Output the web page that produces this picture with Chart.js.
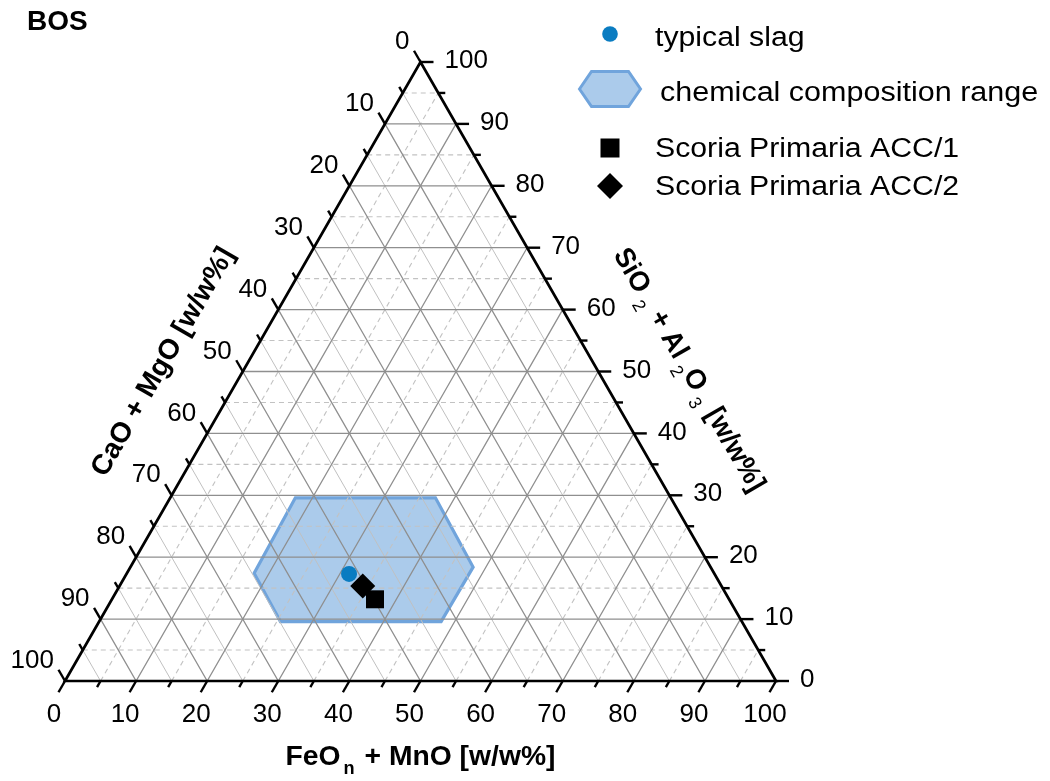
<!DOCTYPE html>
<html>
<head>
<meta charset="utf-8">
<title>BOS ternary diagram</title>
<script src="https://cdn.jsdelivr.net/npm/chart.js@4.4.0/dist/chart.umd.min.js"></script>
<style>
    html, body { margin: 0; padding: 0; background: #fff; }
    #wrap { width: 1050px; height: 781px; }
</style>
</head>
<body>
<div id="wrap"><canvas id="ternary" width="1050" height="781"></canvas></div>
<script>
// Axis ticks (percent, same on all three sides)
const majorTicks = [0, 10, 20, 30, 40, 50, 60, 70, 80, 90, 100];
const minorTicks = [5, 15, 25, 35, 45, 55, 65, 75, 85, 95];
const tickLabels = ['0', '10', '20', '30', '40', '50', '60', '70', '80', '90', '100'];

const seriesNames = ['typical slag', 'chemical composition range', 'Scoria Primaria ACC/1', 'Scoria Primaria ACC/2'];

// Compositions: FeOn+MnO / CaO+MgO / SiO2+Al2O3 [w/w%]
const slagFeO = [31.3];
const slagCaO = [51.4];
const slagSiO = [17.3];

const acc1FeO = [37.0];
const acc1CaO = [49.8];
const acc1SiO = [13.2];

const acc2FeO = [34.2];
const acc2CaO = [50.45];
const acc2SiO = [15.35];

// corners of the BOS composition range
const rangeFeO = [17.6, 37.3, 48.2, 48.1, 25.5, 17.9];
const rangeCaO = [52.8, 33.1, 33.4, 42.3, 64.9, 64.7];
const rangeSiO = [29.6, 29.6, 18.4, 9.6, 9.6, 17.4];

const FONT = '"Liberation Sans", Arial, Helvetica, sans-serif';
const H = Math.sqrt(3) / 2;

// ternary -> cartesian (x: 0..100, y: 0..86.6)
function toXY(feo, cao, sio) {
    const sum = feo + cao + sio;
    return { x: 100 * (feo + sio / 2) / sum, y: 100 * H * sio / sum };
}

function tern(feo, cao, sio) {
    return feo.map((f, i) => toXY(f, cao[i], sio[i]));
}

// one family of grid lines, separated by gaps
function gridLines(values, kind) {
    const pts = [];
    values.forEach(v => {
        if (v <= 0 || v >= 100) return;
        let a, b;
        if (kind === 'S') { a = toXY(0, 100 - v, v); b = toXY(100 - v, 0, v); }
        if (kind === 'C') { a = toXY(0, v, 100 - v); b = toXY(100 - v, v, 0); }
        if (kind === 'F') { a = toXY(v, 100 - v, 0); b = toXY(v, 0, 100 - v); }
        pts.push(a, b, { x: null, y: null });
    });
    return pts;
}

function gridSet(data, color, dash, width) {
    return {
        label: 'grid',
        data: data,
        showLine: true,
        borderColor: color,
        borderWidth: width,
        borderDash: dash,
        pointRadius: 0,
        fill: false,
        spanGaps: false,
        order: 5
    };
}

const hexPoints = tern(rangeFeO, rangeCaO, rangeSiO);
const framePoints = [toXY(0, 100, 0), toXY(100, 0, 0), toXY(0, 0, 100), toXY(0, 100, 0), toXY(100, 0, 0)];

const SLAG_BLUE = '#0a7cc1';
const RANGE_FILL = '#abcbeb';
const RANGE_LINE = '#70a4dc';

// helpers for the decorations
function px(chart, feo, cao, sio) {
    const p = toXY(feo, cao, sio);
    return [chart.scales.x.getPixelForValue(p.x), chart.scales.y.getPixelForValue(p.y)];
}

function seg(ctx, x1, y1, x2, y2) {
    ctx.beginPath();
    ctx.moveTo(x1, y1);
    ctx.lineTo(x2, y2);
    ctx.stroke();
}

function stretchedText(ctx, text, x, y, sx) {
    ctx.save();
    ctx.translate(x, y);
    ctx.scale(sx, 1);
    ctx.fillText(text, 0, 0);
    ctx.restore();
}

// text with subscripts, centred on (cx, cy baseline), rotated
function richText(ctx, parts, cx, cy, angle, sx) {
    ctx.save();
    ctx.translate(cx, cy);
    ctx.rotate(angle);
    ctx.scale(sx, 1);
    ctx.textAlign = 'left';
    ctx.textBaseline = 'alphabetic';
    let total = 0;
    parts.forEach(p => {
        ctx.font = p.font;
        p.w = ctx.measureText(p.t).width + (p.pre || 0) + (p.post || 0);
        total += p.w;
    });
    let x = -total / 2;
    parts.forEach(p => {
        ctx.font = p.font;
        ctx.fillText(p.t, x + (p.pre || 0), p.dy || 0);
        x += p.w;
    });
    ctx.restore();
}

function hexagonIcon(ctx, cx, cy, w, h) {
    ctx.beginPath();
    ctx.moveTo(cx - w / 2, cy);
    ctx.lineTo(cx - w / 2 + 12, cy - h / 2);
    ctx.lineTo(cx + w / 2 - 12, cy - h / 2);
    ctx.lineTo(cx + w / 2, cy);
    ctx.lineTo(cx + w / 2 - 12, cy + h / 2);
    ctx.lineTo(cx - w / 2 + 12, cy + h / 2);
    ctx.closePath();
    ctx.fillStyle = RANGE_FILL;
    ctx.fill();
    ctx.lineWidth = 3;
    ctx.strokeStyle = RANGE_LINE;
    ctx.stroke();
}

const decorPlugin = {
    id: 'ternaryDecor',
    afterDraw(chart) {
        const ctx = chart.ctx;
        ctx.save();
        ctx.strokeStyle = '#000';
        ctx.fillStyle = '#000';
        ctx.lineWidth = 2.4;
        ctx.lineCap = 'butt';
        ctx.font = '26px ' + FONT;

        const majLen = 13, minLen = 7;

        // bottom axis: FeOn + MnO
        ctx.textAlign = 'center';
        ctx.textBaseline = 'middle';
        majorTicks.forEach((v, i) => {
            const [x, y] = px(chart, v, 100 - v, 0);
            seg(ctx, x, y, x - majLen * 0.5, y + majLen * H);
            ctx.fillText(tickLabels[i], x - 11, y + 34);
        });
        minorTicks.forEach(v => {
            const [x, y] = px(chart, v, 100 - v, 0);
            seg(ctx, x, y, x - minLen * 0.5, y + minLen * H);
        });

        // left axis: CaO + MgO
        ctx.textAlign = 'right';
        majorTicks.forEach((v, i) => {
            const [x, y] = px(chart, 0, v, 100 - v);
            seg(ctx, x, y, x - majLen * 0.5, y - majLen * H);
            ctx.fillText(tickLabels[i], x - 11, y - 20);
        });
        minorTicks.forEach(v => {
            const [x, y] = px(chart, 0, v, 100 - v);
            seg(ctx, x, y, x - minLen * 0.5, y - minLen * H);
        });

        // right axis: SiO2 + Al2O3
        ctx.textAlign = 'left';
        majorTicks.forEach((v, i) => {
            const [x, y] = px(chart, 100 - v, 0, v);
            seg(ctx, x, y, x + majLen, y);
            ctx.fillText(tickLabels[i], x + 24, y - 1);
        });
        minorTicks.forEach(v => {
            const [x, y] = px(chart, 100 - v, 0, v);
            seg(ctx, x, y, x + minLen, y);
        });

        // axis titles
        const bold = 'bold 28px ' + FONT;
        const subBold = 'bold 18px ' + FONT;
        const sub = '18px ' + FONT;
        const ca = chart.chartArea;
        richText(ctx, [
            { t: 'FeO', font: bold },
            { t: 'n', font: subBold, dy: 9, pre: 3, post: 2 },
            { t: ' + MnO [w/w%]', font: bold }
        ], (ca.left + ca.right) / 2, ca.bottom + 84, 0, 1.01);

        richText(ctx, [
            { t: 'CaO + MgO [w/w%]', font: bold }
        ], ca.left + 105, ca.top + 304, -Math.PI / 3, 1.02);

        richText(ctx, [
            { t: 'SiO', font: bold },
            { t: '2', font: sub, dy: 9, pre: 6, post: 2 },
            { t: ' + Al', font: bold },
            { t: '2', font: sub, dy: 9, pre: 6, post: 1 },
            { t: 'O', font: bold },
            { t: '3', font: sub, dy: 9, pre: 5, post: 2 },
            { t: ' [w/w%]', font: bold }
        ], ca.left + 617, ca.top + 312, Math.PI / 3, 0.97);

        // panel title
        ctx.font = 'bold 28px ' + FONT;
        ctx.textAlign = 'left';
        ctx.textBaseline = 'alphabetic';
        ctx.fillText('BOS', 27, 30);

        // legend
        const mx = 610, tx = 655;
        ctx.font = '27px ' + FONT;
        ctx.textBaseline = 'alphabetic';

        ctx.fillStyle = SLAG_BLUE;
        ctx.beginPath();
        ctx.arc(mx, 34, 7.8, 0, Math.PI * 2);
        ctx.fill();
        ctx.fillStyle = '#000';
        stretchedText(ctx, seriesNames[0], tx, 46, 1.12);

        hexagonIcon(ctx, 610, 89, 61, 35);
        ctx.fillStyle = '#000';
        stretchedText(ctx, seriesNames[1], 660, 101, 1.13);

        ctx.fillRect(mx - 9.5, 148 - 9.5, 19, 19);
        stretchedText(ctx, seriesNames[2], tx, 157, 1.12);

        ctx.beginPath();
        ctx.moveTo(mx, 186 - 13);
        ctx.lineTo(mx + 13, 186);
        ctx.lineTo(mx, 186 + 13);
        ctx.lineTo(mx - 13, 186);
        ctx.closePath();
        ctx.fill();
        stretchedText(ctx, seriesNames[3], tx, 195, 1.12);

        ctx.restore();
    }
};

Chart.defaults.font.family = FONT;

new Chart(document.getElementById('ternary'), {
    type: 'scatter',
    data: {
        datasets: [
            {
                label: seriesNames[2],
                data: tern(acc1FeO, acc1CaO, acc1SiO),
                pointStyle: 'rect',
                pointRadius: 12.7,
                backgroundColor: '#000',
                borderWidth: 0,
                order: 0
            },
            {
                label: seriesNames[3],
                data: tern(acc2FeO, acc2CaO, acc2SiO),
                pointStyle: 'rectRot',
                pointRadius: 12.5,
                backgroundColor: '#000',
                borderWidth: 0,
                order: 1
            },
            {
                label: seriesNames[0],
                data: tern(slagFeO, slagCaO, slagSiO),
                pointStyle: 'circle',
                pointRadius: 8,
                backgroundColor: SLAG_BLUE,
                borderWidth: 0,
                order: 2
            },
            {
                label: 'frame',
                data: framePoints,
                showLine: true,
                borderColor: '#000',
                borderWidth: 2.7,
                borderJoinStyle: 'miter',
                pointRadius: 0,
                clip: false,
                order: 3
            },
            gridSet(gridLines(majorTicks, 'S'), '#8f8f8f', [], 1.3),
            gridSet(gridLines(majorTicks, 'C'), '#8f8f8f', [], 1.3),
            gridSet(gridLines(majorTicks, 'F'), '#8f8f8f', [], 1.3),
            gridSet(gridLines(minorTicks, 'S'), '#c2c2c2', [5, 4], 1.1),
            gridSet(gridLines(minorTicks, 'F'), '#c2c2c2', [5, 4], 1.1),
            gridSet(gridLines(minorTicks, 'C'), '#c0c0c0', [], 1),
            {
                label: seriesNames[1],
                data: hexPoints.concat([hexPoints[0], hexPoints[1]]),
                showLine: true,
                fill: 'shape',
                backgroundColor: RANGE_FILL,
                borderColor: RANGE_LINE,
                borderWidth: 3.2,
                borderJoinStyle: 'miter',
                pointRadius: 0,
                order: 6
            }
        ]
    },
    options: {
        responsive: false,
        animation: false,
        events: [],
        layout: { padding: { left: 65, right: 274, top: 62, bottom: 100 } },
        scales: {
            x: { type: 'linear', min: 0, max: 100, display: false },
            y: { type: 'linear', min: 0, max: 100 * H, display: false }
        },
        plugins: {
            legend: { display: false },
            tooltip: { enabled: false }
        }
    },
    plugins: [decorPlugin]
});
</script>
</body>
</html>
